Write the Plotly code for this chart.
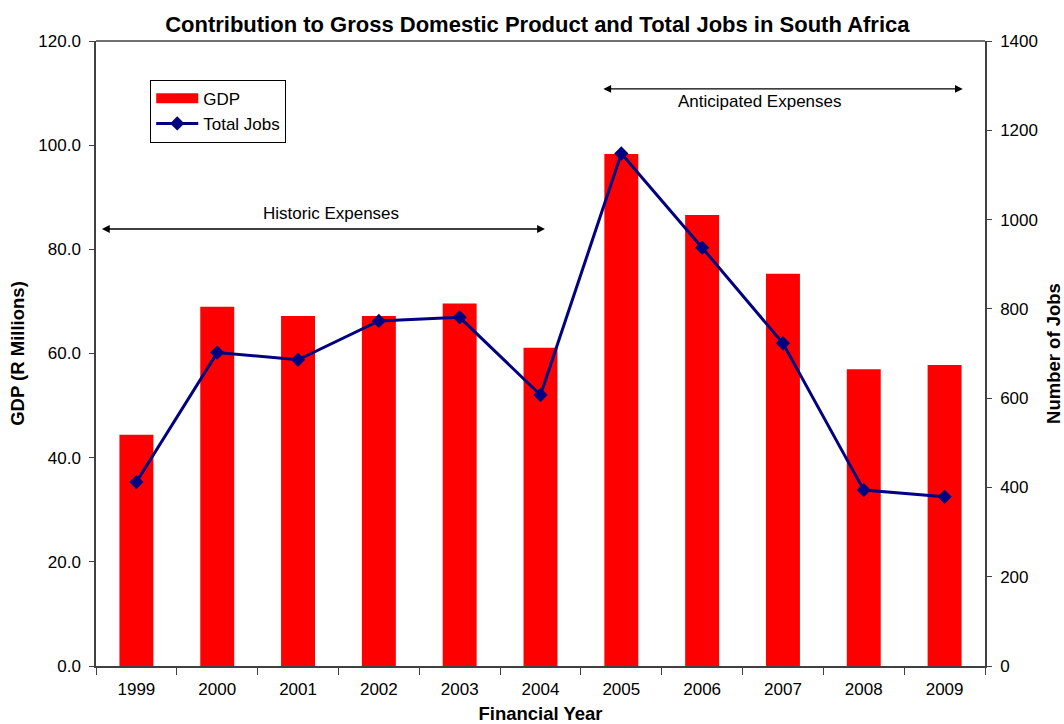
import plotly.graph_objects as go

years = ["1999", "2000", "2001", "2002", "2003", "2004", "2005", "2006", "2007", "2008", "2009"]
gdp = [44.4, 69.0, 67.2, 67.2, 69.6, 61.1, 98.3, 86.6, 75.3, 57.0, 57.8]
jobs = [412, 702, 686, 773, 781, 607, 1148, 937, 723, 394, 379]

FONT = "Liberation Sans, Arial, sans-serif"

fig = go.Figure()
fig.add_trace(go.Bar(x=years, y=gdp, name="GDP", marker=dict(color="#FF0000", line=dict(width=0)),
                     width=0.42, yaxis="y", showlegend=False))
# legend entry for GDP drawn as a wide red swatch
fig.add_trace(go.Scatter(x=[None], y=[None], name="GDP", mode="lines",
                         line=dict(color="#FF0000", width=12), yaxis="y"))
fig.add_trace(go.Scatter(x=years, y=jobs, name="Total Jobs", mode="lines+markers", yaxis="y2",
                         line=dict(color="#000080", width=3),
                         marker=dict(symbol="diamond", size=11, color="#000080")))

fig.update_layout(
    width=1064, height=724,
    margin=dict(l=96, r=79, t=41, b=58),
    paper_bgcolor="white", plot_bgcolor="white",
    font=dict(family=FONT, size=17, color="black"),
    title=dict(text="<b>Contribution to Gross Domestic Product and Total Jobs in South Africa</b>",
               x=0.505, xanchor="center", y=0.967, yanchor="middle", font=dict(size=22)),
    xaxis=dict(type="category", range=[-0.5, 10.5], showgrid=False, showline=True, automargin=False,
               linecolor="#404040", linewidth=2, ticks="outside", ticklen=7, tickcolor="#404040",
               tickson="boundaries", ticklabelstandoff=7,
               title=dict(text="<b>Financial Year</b>", standoff=10, font=dict(size=18.5))),
    yaxis=dict(range=[0, 120], dtick=20, tickformat=".1f", showgrid=False, showline=True,
               linecolor="#404040", linewidth=1.5, ticks="outside", ticklen=5, tickcolor="#404040",
               zeroline=False, ticklabelstandoff=5, automargin=False,
               title=dict(text="<b>GDP (R Millions)</b>", standoff=9, font=dict(size=18.5))),
    yaxis2=dict(range=[0, 1400], dtick=200, overlaying="y", side="right", showgrid=False,
                showline=True, linecolor="#404040", linewidth=1.5, ticks="outside", ticklen=5,
                tickcolor="#404040", zeroline=False, ticklabelstandoff=5, automargin=False,
                title=dict(text="<b>Number of Jobs</b>", standoff=14, font=dict(size=18.5))),
    legend=dict(x=0.061, y=0.938, xanchor="left", yanchor="top", bordercolor="black", borderwidth=1,
                bgcolor="white", font=dict(size=17), tracegroupgap=0, itemwidth=42),
    showlegend=True,
)

# top border line
fig.add_shape(type="line", xref="paper", yref="paper", x0=0, x1=1, y0=1, y1=1,
              line=dict(color="#404040", width=1.5))

# Historic Expenses arrow
fig.add_annotation(xref="x domain", yref="y", axref="x domain", ayref="y", x=0.505, y=83.9, ax=0.005, ay=83.9,
                   text="", showarrow=True, arrowhead=2, startarrowhead=2, arrowside="end+start",
                   arrowwidth=1.3, arrowsize=1.2, startarrowsize=1.2, arrowcolor="black")
fig.add_annotation(xref="x domain", yref="y", x=0.264, y=86.9, text="Historic Expenses", showarrow=False,
                   xanchor="center", yanchor="middle", font=dict(size=17))
# Anticipated Expenses arrow
fig.add_annotation(xref="x domain", yref="y", axref="x domain", ayref="y", x=0.975, y=110.8, ax=0.569, ay=110.8,
                   text="", showarrow=True, arrowhead=2, startarrowhead=2, arrowside="end+start",
                   arrowwidth=1.3, arrowsize=1.2, startarrowsize=1.2, arrowcolor="black")
fig.add_annotation(xref="x domain", yref="y", x=0.747, y=108.4, text="Anticipated Expenses", showarrow=False,
                   xanchor="center", yanchor="middle", font=dict(size=17))

fig.write_html("out.html")
